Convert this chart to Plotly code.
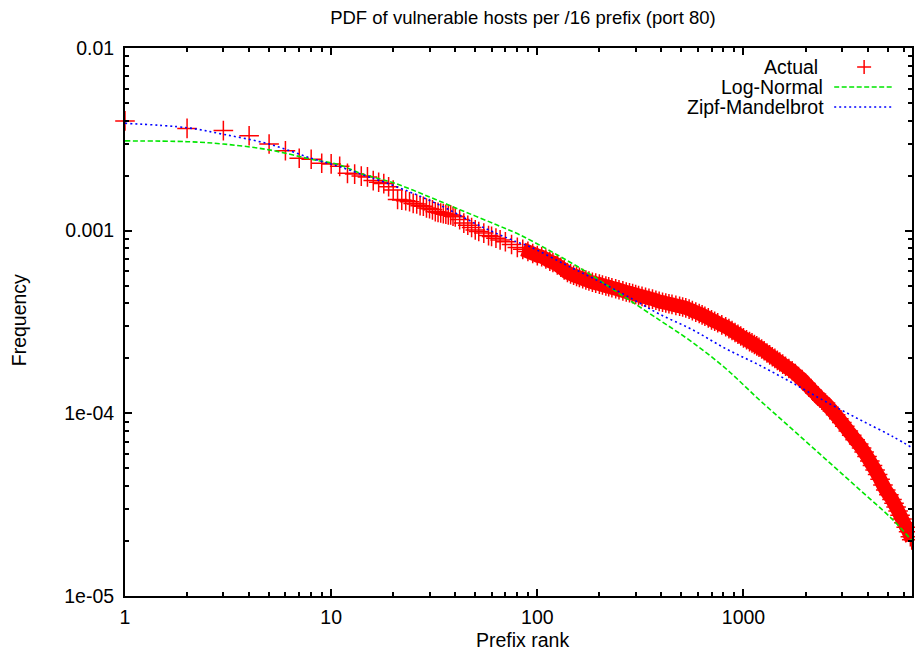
import plotly.graph_objects as go

# ---------------- data ----------------
actual_rank = list(range(1, 41)) + [
    42, 44, 46, 48, 50, 52, 55, 58, 60, 63, 66, 70, 75, 80, 85, 90, 95, 100,
    105, 110, 115, 119, 125, 130, 135, 140, 145, 150, 155, 160, 166, 172, 178,
    185, 192, 200, 207, 215, 222, 230, 240, 249, 260, 270, 280, 290, 300, 310,
    322, 335, 348, 362, 376, 390, 405, 420, 435, 450, 470, 490, 507, 525, 545,
    565, 587, 610, 630, 650, 675, 700, 725, 750, 785, 820, 850, 880, 910, 940,
    970, 1000, 1035, 1070, 1100, 1130, 1160, 1189, 1225, 1260, 1300, 1340,
    1380, 1420, 1460, 1500, 1550, 1600, 1660, 1722, 1785, 1850, 1925, 2000,
    2075, 2150, 2225, 2300, 2400, 2500, 2600, 2700, 2800, 2900, 3000, 3100,
    3225, 3350, 3480, 3623, 3740, 3850, 3975, 4100, 4225, 4350, 4475, 4600,
    4750, 4900, 5075, 5254, 5375, 5500, 5625, 5750, 5875, 6000, 6160, 6324,
    6450, 6550]
actual_freq = [
    0.00399, 0.00363, 0.00353, 0.00331, 0.00298, 0.00274, 0.00249, 0.00246,
    0.00234, 0.00232, 0.00225, 0.00206, 0.00204, 0.00199, 0.00197, 0.00188,
    0.00184, 0.00181, 0.00174, 0.00167, 0.00148, 0.00147, 0.00146, 0.00144,
    0.00141, 0.00140, 0.00137, 0.00136, 0.00133, 0.00132, 0.00130, 0.00127,
    0.00126, 0.00125, 0.00124, 0.00123, 0.00122, 0.00122, 0.00120, 0.00119,
    0.00115, 0.00110, 0.00107, 0.00104, 0.00101, 0.00099, 0.00097, 0.00094,
    0.00093, 0.00091, 0.00089, 0.00087, 0.00084, 0.00081, 0.00079, 0.00077,
    0.00075, 0.00073,
    0.00072, 0.00070, 0.00068, 0.00067, 0.00065, 0.00063, 0.00061, 0.00059,
    0.00058, 0.00057, 0.000562, 0.000555, 0.000546, 0.000537, 0.000530,
    0.000522, 0.000516, 0.000510, 0.000504, 0.000498, 0.000493, 0.000487,
    0.000481, 0.000475, 0.000468, 0.000462, 0.000457, 0.000452, 0.000447,
    0.000442, 0.000437, 0.000432, 0.000427, 0.000422, 0.000416, 0.000410,
    0.000406, 0.000402, 0.000398, 0.000395, 0.000390, 0.000386, 0.000382,
    0.000378, 0.000372, 0.000365, 0.000358, 0.000352, 0.000346, 0.000340,
    0.000333, 0.000325, 0.000319, 0.000313, 0.000305, 0.000298, 0.000291,
    0.000284, 0.000277, 0.000271, 0.000265, 0.000259, 0.000253, 0.000247,
    0.000243, 0.000238, 0.000234, 0.000230, 0.000225, 0.000220, 0.000214,
    0.000209, 0.000204, 0.000200, 0.000195, 0.000191, 0.000186, 0.000181,
    0.000176, 0.000171, 0.000165, 0.000159, 0.000153, 0.000146, 0.000140,
    0.000134, 0.000129, 0.000124, 0.000118, 0.000114, 0.000108, 0.000103,
    0.0000981, 0.0000935, 0.0000891, 0.0000850, 0.0000801, 0.0000759,
    0.0000717, 0.0000680, 0.0000646, 0.0000615, 0.0000581, 0.0000548,
    0.0000518, 0.0000490, 0.0000462, 0.0000436, 0.0000405, 0.0000380,
    0.0000358, 0.0000338, 0.0000322, 0.0000307, 0.0000292, 0.0000277,
    0.0000264, 0.0000252, 0.0000238, 0.0000225, 0.0000211, 0.0000203]

lognorm_rank = [1, 2, 3, 5, 8, 11, 14, 20, 30, 43, 63, 82, 119, 172, 249,
                390, 565, 820, 1189, 1722, 2500, 3623, 5254, 6560, 6700]
lognorm_freq = [0.00310, 0.00307, 0.00298, 0.00277, 0.00246, 0.00229,
                0.00205, 0.00183, 0.00153, 0.00129, 0.00108, 0.00095,
                0.000760, 0.000597, 0.000454, 0.000325, 0.000245, 0.000176,
                0.000119, 0.0000820, 0.0000562, 0.0000386, 0.0000264,
                0.0000201, 0.0000195]

zipf_rank = [1, 2, 3, 5, 8, 11, 15, 17, 25, 36, 52, 79, 92, 138, 200, 290,
             390, 565, 820, 1189, 1722, 2500, 3623, 5254, 6700]
zipf_freq = [0.00387, 0.00366, 0.00337, 0.00298, 0.00249, 0.00224, 0.00198,
             0.00189, 0.00160, 0.00133, 0.00107, 0.00087, 0.000817, 0.000649,
             0.000527, 0.000422, 0.000350, 0.000287, 0.000226, 0.000184,
             0.000147, 0.000116, 0.0000930, 0.0000750, 0.0000640]

title_text = "PDF of vulnerable hosts per /16 prefix (port 80)"
x_title = "Prefix rank"
y_title = "Frequency"
x_tickvals = [1, 10, 100, 1000]
x_ticktext = ["1", "10", "100", "1000"]
y_tickvals = [1e-5, 1e-4, 1e-3, 1e-2]
y_ticktext = ["1e-05", "1e-04", "0.001", "0.01"]
legend_names = ["Actual", "Log-Normal", "Zipf-Mandelbrot"]

# ---------------- layout geometry (screen pixels) ----------------
W, H = 915, 657
L, R, T, B = 125, 914, 48, 596
FONT = "Liberation Sans, Arial, Helvetica, sans-serif"
RED, GREEN, BLUE = "#ff0000", "#00e600", "#0000ff"
FS = 19.5


def px(xp):
    return (xp - L) / (R - L)


def py(yp):
    return (B - yp) / (B - T)


x_minor = [m * 10 ** e for e in range(0, 4) for m in range(2, 10) if m * 10 ** e < 6600]
y_minor = [m * 10.0 ** e for e in range(-5, -2) for m in range(2, 10)]

fig = go.Figure()

# dense part of the data: thousands of overlapping markers form a solid band
dense_r = [r for r in actual_rank if r >= 85]
dense_f = [f for r, f in zip(actual_rank, actual_freq) if r >= 85]
fig.add_trace(go.Scatter(x=dense_r, y=dense_f, mode="lines",
                         line=dict(color=RED, width=14, shape="spline",
                                   smoothing=1.0),
                         hoverinfo="skip", showlegend=False))
fig.add_trace(go.Scatter(x=actual_rank, y=actual_freq, mode="markers",
                         name=legend_names[0], cliponaxis=False,
                         marker=dict(symbol="cross-thin", size=14, color=RED,
                                     line=dict(color=RED, width=1.5)),
                         showlegend=False))
fig.add_trace(go.Scatter(x=lognorm_rank, y=lognorm_freq, mode="lines",
                         name=legend_names[1],
                         line=dict(color=GREEN, width=1.6, dash="5px,2.5px",
                                   shape="spline", smoothing=1.0),
                         showlegend=False))
fig.add_trace(go.Scatter(x=zipf_rank, y=zipf_freq, mode="lines",
                         name=legend_names[2],
                         line=dict(color=BLUE, width=1.6, dash="2px,3px",
                                   shape="spline", smoothing=1.0),
                         showlegend=False))

axis_common = dict(
    showline=True, linewidth=2, linecolor="black", mirror="allticks",
    ticks="inside", ticklen=7, tickwidth=2, tickcolor="black",
    showgrid=False, zeroline=False,
    tickfont=dict(family=FONT, size=FS, color="black"),
)

fig.update_xaxes(type="log", range=[0, 3.8175], tickmode="array",
                 tickvals=x_tickvals, ticktext=x_ticktext,
                 ticklabelstandoff=3,
                 minor=dict(tickmode="array", tickvals=x_minor, ticks="inside",
                            ticklen=4, tickwidth=2, tickcolor="black",
                            showgrid=False),
                 **axis_common)
fig.update_yaxes(type="log", range=[-5, -2], tickmode="array",
                 tickvals=y_tickvals, ticktext=y_ticktext,
                 ticklabelstandoff=5,
                 minor=dict(tickmode="array", tickvals=y_minor, ticks="inside",
                            ticklen=4, tickwidth=2, tickcolor="black",
                            showgrid=False),
                 **axis_common)

annotations = [
    dict(text=x_title, x=px(524), y=py(640), xref="paper", yref="paper",
         showarrow=False, xanchor="center", yanchor="middle",
         font=dict(family=FONT, size=FS, color="black")),
    dict(text=y_title, x=px(19), y=py(320), xref="paper", yref="paper",
         showarrow=False, textangle=-90, xanchor="center", yanchor="middle",
         font=dict(family=FONT, size=FS, color="black")),
]
for name, xx, yy in zip(legend_names, [822, 827, 828], [67, 87, 107]):
    annotations.append(dict(text=name, x=px(xx), y=py(yy), xref="paper",
                            yref="paper", showarrow=False, xanchor="right",
                            yanchor="middle",
                            font=dict(family=FONT, size=FS, color="black")))

shapes = [
    # legend sample: red plus
    dict(type="line", xref="paper", yref="paper", x0=px(859), x1=px(873),
         y0=py(67), y1=py(67), line=dict(color=RED, width=1.5)),
    dict(type="line", xref="paper", yref="paper", x0=px(866), x1=px(866),
         y0=py(60), y1=py(74), line=dict(color=RED, width=1.5)),
    # legend sample: green dashed
    dict(type="line", xref="paper", yref="paper", x0=px(836), x1=px(896),
         y0=py(87), y1=py(87), line=dict(color=GREEN, width=1.6, dash="5px,2.5px")),
    # legend sample: blue dotted
    dict(type="line", xref="paper", yref="paper", x0=px(836), x1=px(896),
         y0=py(107), y1=py(107), line=dict(color=BLUE, width=1.6, dash="2px,3px")),
]

fig.update_layout(
    width=W, height=H,
    margin=dict(l=L, r=W - R, t=T, b=H - B),
    paper_bgcolor="white", plot_bgcolor="white",
    title=dict(text=title_text, x=px(524), xref="paper", xanchor="center",
               y=(H - 18) / H, yref="container", yanchor="middle",
               font=dict(family=FONT, size=18.5, color="black")),
    annotations=annotations, shapes=shapes, showlegend=False,
)

fig.write_html(
    "out.html",
    config={"displayModeBar": False},
    post_script="document.body.style.margin='0px';"
                "document.body.style.overflow='hidden';",
)
